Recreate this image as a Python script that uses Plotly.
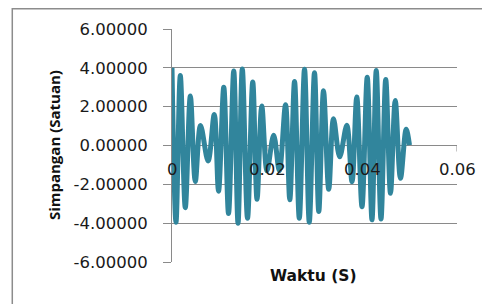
import plotly.graph_objects as go

# Data (peaks / troughs of the smoothed curve)
waktu = [0, 0.00084, 0.00175, 0.0028, 0.00386, 0.0049, 0.006, 0.0076, 0.0089, 0.0098,
         0.0109, 0.0119, 0.0130, 0.0139, 0.0148, 0.0159, 0.0170, 0.0179, 0.0189, 0.0200,
         0.0214, 0.0226, 0.0239, 0.0248, 0.0258, 0.0268, 0.0279, 0.0289, 0.0300, 0.0309,
         0.0319, 0.0330, 0.0340, 0.0353, 0.0368, 0.0379, 0.0389, 0.0400, 0.0411, 0.0421,
         0.0430, 0.0440, 0.0450, 0.0460, 0.0470, 0.0481, 0.0493, 0.0500]
simpangan = [4.0, -3.95, 3.6, -3.2, 2.55, -1.85, 1.03, -0.8, 1.6, -2.35,
             3.0, -3.5, 3.84, -4.0, 3.94, -3.75, 3.27, -2.77, 2.03, -1.3,
             0.53, -1.3, 2.1, -2.8, 3.3, -3.75, 3.93, -3.95, 3.75, -3.4,
             2.82, -2.25, 1.38, -0.58, 1.04, -1.87, 2.5, -3.15, 3.52, -3.83,
             3.86, -3.78, 3.4, -2.46, 2.32, -1.69, 0.84, 0.02]

y_ticks = [-6, -4, -2, 0, 2, 4, 6]
y_tick_labels = ["-6.00000", "-4.00000", "-2.00000", "0.00000", "2.00000", "4.00000", "6.00000"]
x_ticks = [0, 0.02, 0.04, 0.06]
x_tick_labels = ["0", "0.02", "0.04", "0.06"]

GRID = "#8a8a8a"
LINE = "#31859C"
TICKFONT = dict(family="DejaVu Sans", size=16.5, color="#1a1a1a")

fig = go.Figure()
fig.add_trace(go.Scatter(x=waktu, y=simpangan, mode="lines",
                         line=dict(color=LINE, width=5, shape="spline", smoothing=1),
                         showlegend=False, hoverinfo="skip"))

shapes = []
# outer chart border
shapes.append(dict(type="rect", xref="paper", yref="paper",
                   x0=-0.5604, x1=1.2, y0=-0.3, y1=1.087,
                   line=dict(color="#8c8c8c", width=1.5), fillcolor="rgba(0,0,0,0)", layer="below"))
# x-axis tick marks on the zero line
for xv in x_ticks:
    shapes.append(dict(type="line", xref="x", yref="y", ysizemode="pixel", yanchor=0,
                       x0=xv, x1=xv, y0=0, y1=-6, line=dict(color=GRID, width=1), layer="below"))
fig.update_layout(shapes=shapes)

annotations = []
for xv, lab in zip(x_ticks, x_tick_labels):
    annotations.append(dict(x=xv, y=0, xref="x", yref="y", text=lab, showarrow=False,
                            yshift=-24, xanchor="center", yanchor="middle", font=TICKFONT))
annotations.append(dict(x=0.4958, y=-0.0618, xref="paper", yref="paper", text="<b>Waktu (S)</b>",
                        showarrow=False, xanchor="center", yanchor="middle",
                        font=dict(family="DejaVu Sans", size=15.5, color="#111")))
annotations.append(dict(x=-0.4154, y=0.5, xref="paper", yref="paper", text="<b>Simpangan (Satuan)</b>",
                        showarrow=False, xanchor="center", yanchor="middle", textangle=-90,
                        font=dict(family="Open Sans", size=15, color="#111")))
fig.update_layout(annotations=annotations)

fig.update_xaxes(range=[0, 0.06], showgrid=False, zeroline=False, showline=False,
                 showticklabels=False, ticks="")
fig.update_yaxes(range=[-6, 6], tickvals=y_ticks, ticktext=y_tick_labels, tickfont=TICKFONT,
                 showgrid=True, gridcolor=GRID, gridwidth=1,
                 zeroline=True, zerolinecolor=GRID, zerolinewidth=1,
                 showline=True, linecolor=GRID, linewidth=1,
                 ticks="outside", ticklen=8, tickcolor=GRID, ticklabelstandoff=12)

# page body has an 8px margin, so the figure is 8px smaller and starts at (8,8)
fig.update_layout(width=482, height=296, autosize=False,
                  margin=dict(l=163.7, r=33.3, t=21.3, b=41.7),
                  paper_bgcolor="white", plot_bgcolor="white")

fig.write_html("out.html")
